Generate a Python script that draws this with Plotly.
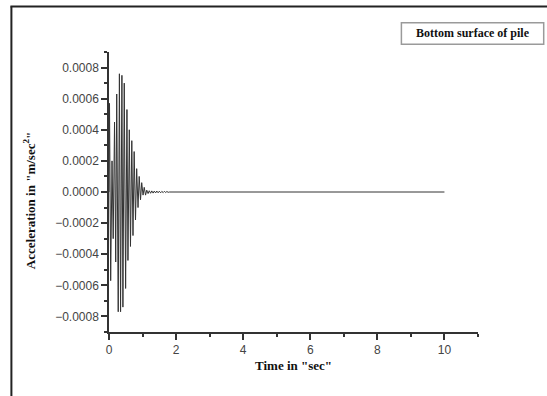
import plotly.graph_objects as go

# ---- data (alternating extrema of the acceleration signal) ----
time_s = [0.000, 0.015, 0.050, 0.090, 0.125, 0.165, 0.200, 0.230, 0.275, 0.310,
          0.345, 0.385, 0.415, 0.455, 0.495, 0.535, 0.565, 0.605, 0.640, 0.680,
          0.715, 0.750, 0.790, 0.825, 0.865, 0.900, 0.940, 0.975, 1.015, 1.050,
          1.090, 1.125, 1.165, 1.200, 1.240, 1.275, 1.315, 1.350, 1.390, 1.425,
          1.465, 1.500, 1.540, 1.575, 1.615, 1.650, 1.690, 1.725, 1.765, 1.800,
          10.000]
accel = [0.0, 0.00057, -0.00057, 0.00020, -0.00030, 0.00045, -0.00045, 0.00063, -0.00077, 0.00076,
         -0.00077, 0.00075, -0.00074, 0.00070, -0.00062, 0.00053, -0.00044, 0.00040, -0.00035, 0.00033,
         -0.00028, 0.00026, -0.00018, 0.00015, -0.00010, 0.00010, -0.00005, 0.00006, -0.00002, 0.00003,
         -0.00002, 0.000012, -0.000010, 0.000008, -0.000008, 0.000007, -0.000007, 0.000006, -0.000006, 0.000006,
         -0.000005, 0.000005, -0.000005, 0.000004, -0.000004, 0.000004, -0.000003, 0.000003, -0.000002, 0.0,
         0.0]

legend_text = "Bottom surface of pile"
x_title = 'Time in "sec"'
y_title = 'Acceleration in "m/sec<sup>2</sup>"'

# ---- layout geometry (pixels) ----
W, H = 547, 396
L, R, T, B = 109.3, 478.3, 51.7, 332.3


def px(x):
    return (x - L) / (R - L)


def py(y):
    return (B - y) / (B - T)


serif = "Liberation Serif, Times New Roman, serif"
sans = "Liberation Sans, Arial, sans-serif"

fig = go.Figure()
fig.add_trace(go.Scatter(x=time_s, y=accel, mode="lines",
                         line=dict(color="#333333", width=1), showlegend=False,
                         hoverinfo="skip"))

fig.update_layout(
    width=W, height=H,
    margin=dict(l=L, r=W - R, t=T, b=H - B, pad=0),
    paper_bgcolor="white", plot_bgcolor="white",
    xaxis=dict(range=[0, 11], tick0=0, dtick=2, showgrid=False, zeroline=False,
               showline=True, linecolor="#333333", linewidth=1.5,
               ticks="outside", ticklen=6, tickwidth=1.5, tickcolor="#333333",
               tickfont=dict(family=sans, size=12, color="#444444"),
               minor=dict(dtick=1, tick0=0, ticks="outside", ticklen=3,
                          tickwidth=1.5, tickcolor="#333333", showgrid=False)),
    yaxis=dict(range=[-0.0009, 0.0009], tick0=0, dtick=0.0002, tickformat=".4f",
               showgrid=False, zeroline=False,
               showline=True, linecolor="#333333", linewidth=1.5,
               ticks="outside", ticklen=6, tickwidth=1.5, tickcolor="#333333",
               tickfont=dict(family=sans, size=12, color="#444444"),
               minor=dict(dtick=0.0001, tick0=0, ticks="outside", ticklen=3,
                          tickwidth=1.5, tickcolor="#333333", showgrid=False)),
)

shapes = [
    # outer frame: left and top edges
    dict(type="line", xref="paper", yref="paper", x0=px(11.7), x1=px(11.7),
         y0=py(6), y1=py(400), line=dict(color="#222222", width=2)),
    dict(type="line", xref="paper", yref="paper", x0=px(10.7), x1=px(550),
         y0=py(6), y1=py(6), line=dict(color="#222222", width=2)),
    # legend box
    dict(type="rect", xref="paper", yref="paper", x0=px(401.7), x1=px(544),
         y0=py(44), y1=py(22.3), line=dict(color="#9a9a9a", width=1.5),
         fillcolor="white"),
]

annotations = [
    dict(text="<b>" + legend_text + "</b>", xref="paper", yref="paper",
         x=px(414.5), y=py(33), xanchor="left", yanchor="middle", showarrow=False,
         font=dict(family=serif, size=12, color="#111111")),
    dict(text="<b>" + x_title + "</b>", xref="paper", yref="paper",
         x=px(293.5), y=py(365.5), xanchor="center", yanchor="middle", showarrow=False,
         font=dict(family=serif, size=13, color="#111111")),
    dict(text="<b>" + y_title + "</b>", xref="paper", yref="paper",
         x=px(29.5), y=py(201), xanchor="center", yanchor="middle", showarrow=False,
         textangle=-90, font=dict(family=serif, size=13, color="#111111")),
]

fig.update_layout(shapes=shapes, annotations=annotations)
fig.write_html("out.html",
               config={"displayModeBar": False},
               post_script="document.body.style.margin='0';document.body.style.overflow='hidden';")
